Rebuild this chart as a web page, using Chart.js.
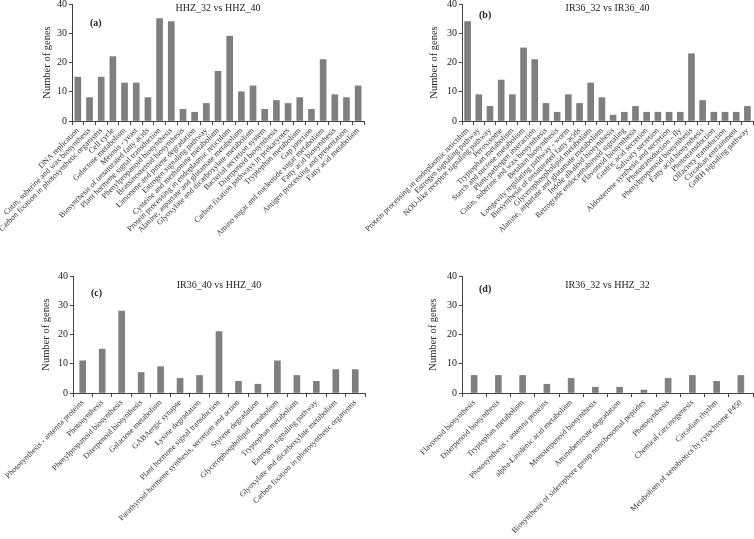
<!DOCTYPE html>
<html><head><meta charset="utf-8">
<script src="https://cdn.jsdelivr.net/npm/chart.js@4/dist/chart.umd.min.js"></script>
<style>
html,body{margin:0;padding:0;background:#fff;}
#wrap{position:relative;width:754px;height:539px;overflow:hidden;background:#fff;}
canvas{position:absolute;left:0;top:0;}
</style></head><body>
<div id="wrap">
<canvas id="ca" width="754" height="539"></canvas>
<canvas id="cb" width="754" height="539"></canvas>
<canvas id="cc" width="754" height="539"></canvas>
<canvas id="cd" width="754" height="539"></canvas>
</div>
<script>
// ---- data ----
const yTicks = [0, 5, 10, 15, 20, 25, 30, 35, 40];
const yAxisTitle = 'Number of genes';

const titleA = 'HHZ_32 vs HHZ_40';
const catsA = ['DNA replication','Cutin, suberine and wax biosynthesis','Carbon fixation in photosynthetic organisms','Cell cycle','Galactose metabolism','Meiosis - yeast','Biosynthesis of unsaturated fatty acids','Plant hormone signal transduction','Phenylpropanoid biosynthesis','Brassinosteroid biosynthesis','Limonene and pinene degradation','Estrogen signaling pathway','Cysteine and methionine metabolism','Protein processing in endoplasmic reticulum','Alanine, aspartate and glutamate metabolism','Glyoxylate and dicarboxylate metabolism','Bacterial secretion system','Diterpenoid biosynthesis','Carbon fixation pathways in prokaryotes','Tryptophan metabolism','Gap junction','Amino sugar and nucleotide sugar metabolism','Fatty acid biosynthesis','Antigen processing and presentation','Fatty acid metabolism'];
const valsA = [15,8,15,22,13,13,8,35,34,4,3,6,17,29,10,12,4,7,6,8,4,21,9,8,12];

const titleB = 'IR36_32 vs IR36_40';
const catsB = ['Protein processing in endoplasmic reticulum','Estrogen signaling pathway','NOD-like receptor signaling pathway','Peroxisome','Tryptophan metabolism','Starch and sucrose metabolism','Plant-pathogen interaction','Cutin, suberine and wax biosynthesis','Betalain biosynthesis','Longevity regulating pathway - worm','Biosynthesis of unsaturated fatty acids','Glycerophospholipid metabolism','Alanine, aspartate and glutamate metabolism','Indole alkaloid biosynthesis','Retrograde endocannabinoid signaling','Flavonoid biosynthesis','Gastric acid secretion','Salivary secretion','Aldosterone synthesis and secretion','Phototransduction - fly','Phenylpropanoid biosynthesis','Fatty acid biosynthesis','Phototransduction','Olfactory transduction','Circadian entrainment','GnRH signaling pathway'];
const valsB = [34,9,5,14,9,25,21,6,3,9,6,13,8,2,3,5,3,3,3,3,23,7,3,3,3,5];

const titleC = 'IR36_40 vs HHZ_40';
const catsC = ['Photosynthesis - antenna proteins','Photosynthesis','Phenylpropanoid biosynthesis','Diterpenoid biosynthesis','Galactose metabolism','GABAergic synapse','Lysine degradation','Plant hormone signal transduction','Parathyroid hormone synthesis, secretion and action','Styrene degradation','Glycerophospholipid metabolism','Tryptophan metabolism','Estrogen signaling pathway','Glyoxylate and dicarboxylate metabolism','Carbon fixation in photosynthetic organisms'];
const valsC = [11,15,28,7,9,5,6,21,4,3,11,6,4,8,8];

const titleD = 'IR36_32 vs HHZ_32';
const catsD = ['Flavonoid biosynthesis','Diterpenoid biosynthesis','Tryptophan metabolism','Photosynthesis - antenna proteins','alpha-Linolenic acid metabolism','Monoterpenoid biosynthesis','Aminobenzoate degradation','Biosynthesis of siderophore group nonribosomal peptides','Photosynthesis','Chemical carcinogenesis','Circadian rhythm','Metabolism of xenobiotics by cytochrome P450'];
const valsD = [6,6,6,3,5,2,2,1,5,6,4,6];

// ---- layout / styling ----
const FAM = '"Liberation Serif", "Times New Roman", serif';
const W = 754, H = 539;
const panels = [
  {id:'ca', cats:catsA, vals:valsA, title:titleA, tag:'(a)', l:72, t:4, r:364, b:121, xh:400, yTitleX:47, tagDx:18, tagDy:19, titleDy:4},
  {id:'cb', cats:catsB, vals:valsB, title:titleB, tag:'(b)', l:462, t:4, r:753, b:121, xh:400, yTitleX:434, tagDx:17, tagDy:11, titleDy:4},
  {id:'cc', cats:catsC, vals:valsC, title:titleC, tag:'(c)', l:73, t:276, r:365, b:393, xh:145, yTitleX:46, tagDx:18, tagDy:17, titleDy:9},
  {id:'cd', cats:catsD, vals:valsD, title:titleD, tag:'(d)', l:462, t:276, r:753, b:393, xh:145, yTitleX:433, tagDx:17, tagDy:13, titleDy:9}
];

const annot = {
  id: 'annot',
  afterDraw(chart, args, o) {
    const {ctx, chartArea: a} = chart;
    ctx.save();
    ctx.fillStyle = '#222';
    ctx.textBaseline = 'middle';
    ctx.font = '10px ' + FAM;
    ctx.textAlign = 'center';
    ctx.fillText(o.title, (a.left + a.right) / 2, a.top + o.titleDy);
    ctx.font = 'bold 10px ' + FAM;
    ctx.textAlign = 'left';
    ctx.fillText(o.tag, a.left + o.tagDx, a.top + o.tagDy);
    ctx.restore();
  }
};

panels.forEach(p => {
  const titleLH = 10.5 * 1.2;
  const yW = p.l - (p.yTitleX - titleLH / 2);
  new Chart(document.getElementById(p.id), {
    type: 'bar',
    data: {
      labels: p.cats,
      datasets: [{data: p.vals, backgroundColor: '#7f7f7f', borderWidth: 0, barThickness: 6}]
    },
    options: {
      responsive: false, animation: false, devicePixelRatio: 1, events: [],
      layout: {padding: {left: p.l - yW, top: p.t, right: W - p.r, bottom: H - p.b - p.xh}},
      plugins: {legend: {display: false}, tooltip: {enabled: false}, annot: {title: p.title, tag: p.tag, tagDx: p.tagDx, tagDy: p.tagDy, titleDy: p.titleDy}},
      scales: {
        x: {
          ticks: {autoSkip: false, maxRotation: 45, minRotation: 45, font: {family: FAM, size: 8}, color: '#333', padding: 1},
          grid: {display: true, drawOnChartArea: false, drawTicks: true, tickLength: 4, color: '#444', offset: true},
          border: {display: true, color: '#444', width: 1},
          afterFit(s) { s.height = p.xh; s.paddingLeft = 0; s.paddingRight = 0; }
        },
        y: {
          min: 0, max: 40,
          afterBuildTicks(s) { s.ticks = yTicks.map(v => ({value: v})); },
          ticks: {font: {family: FAM, size: 10}, color: '#222', padding: 2},
          grid: {display: true, drawOnChartArea: false, drawTicks: true, tickLength: 3, color: '#444'},
          border: {display: true, color: '#444', width: 1},
          title: {display: true, text: yAxisTitle, font: {family: FAM, size: 10.5}, color: '#222', padding: {top: 0, bottom: 0}},
          afterFit(s) { s.width = yW; s.paddingTop = 0; s.paddingBottom = 0; }
        }
      }
    },
    plugins: [annot]
  });
});
</script>
</body></html>
